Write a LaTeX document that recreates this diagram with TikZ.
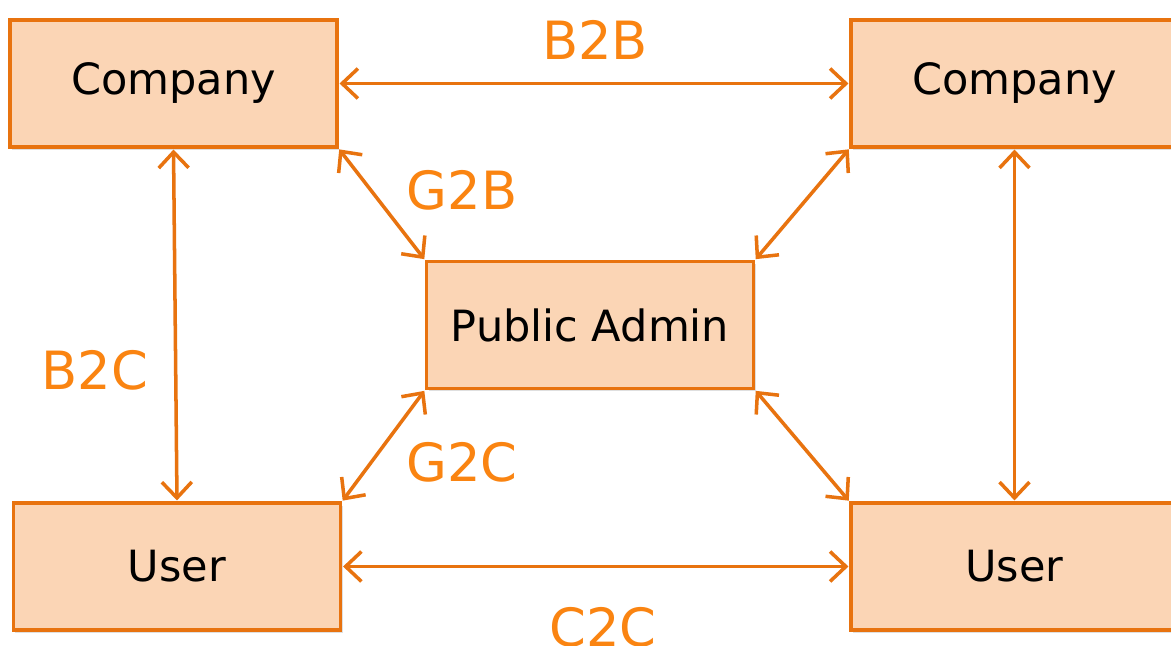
\documentclass[tikz,border=0pt]{standalone}
\usepackage{fontspec}
\setmainfont{DejaVu Sans}
\usetikzlibrary{arrows.meta,shadows}
\definecolor{lineor}{HTML}{E8730F}
\definecolor{fillor}{HTML}{FBD5B5}
\definecolor{labor}{HTML}{FA8411}
\tikzset{
  ent/.style={draw=lineor, line width=1.9pt, fill=fillor, minimum width=327*0.02cm, minimum height=127*0.02cm, inner sep=0pt, font=\fontsize{24.5}{28}\selectfont, text=black, drop shadow={shadow xshift=0.04cm, shadow yshift=-0.05cm, opacity=0.25}},
  link/.style={draw=lineor, line width=2pt, {Straight Barb[length=9pt,width=17pt,line width=2pt]}-{Straight Barb[length=9pt,width=17pt,line width=2pt]}, shorten <=0.5pt, shorten >=0.5pt},
  lab/.style={text=labor, font=\fontsize{30}{34}\selectfont, inner sep=0pt}
}
\begin{document}
\begin{tikzpicture}[x=0.02cm,y=-0.02cm]
\clip (0,0) rectangle (1171,646);
\fill[white] (0,0) rectangle (1171,646);
\node[ent] (ctl) at (173.5,83.5) {Company};
\node[ent] (ctr) at (1014.5,83.5) {Company};
\node[ent] (pa) at (590,325) {Public Admin};
\node[ent] (ubl) at (177,566.5) {User};
\node[ent] (ubr) at (1014.5,566.5) {User};
\draw[link] (ctl.east) -- (ctr.west);
\draw[link] (ubl.east) -- (ubr.west);
\draw[link] (ctl.south east) -- (pa.north west);
\draw[link] (ctr.south west) -- (pa.north east);
\draw[link] (ubl.north east) -- (pa.south west);
\draw[link] (ubr.north west) -- (pa.south east);
\draw[link] (ctl.south) -- (ubl.north);
\draw[link] (ctr.south) -- (ubr.north);
\node[lab] (b2b) at (595,40) {B2B};
\node[lab] (g2b) at (462,190) {G2B};
\node[lab] (b2c) at (95,370) {B2C};
\node[lab] (g2c) at (462,462) {G2C};
\node[lab] (c2c) at (603,627) {C2C};
\end{tikzpicture}
\end{document}
